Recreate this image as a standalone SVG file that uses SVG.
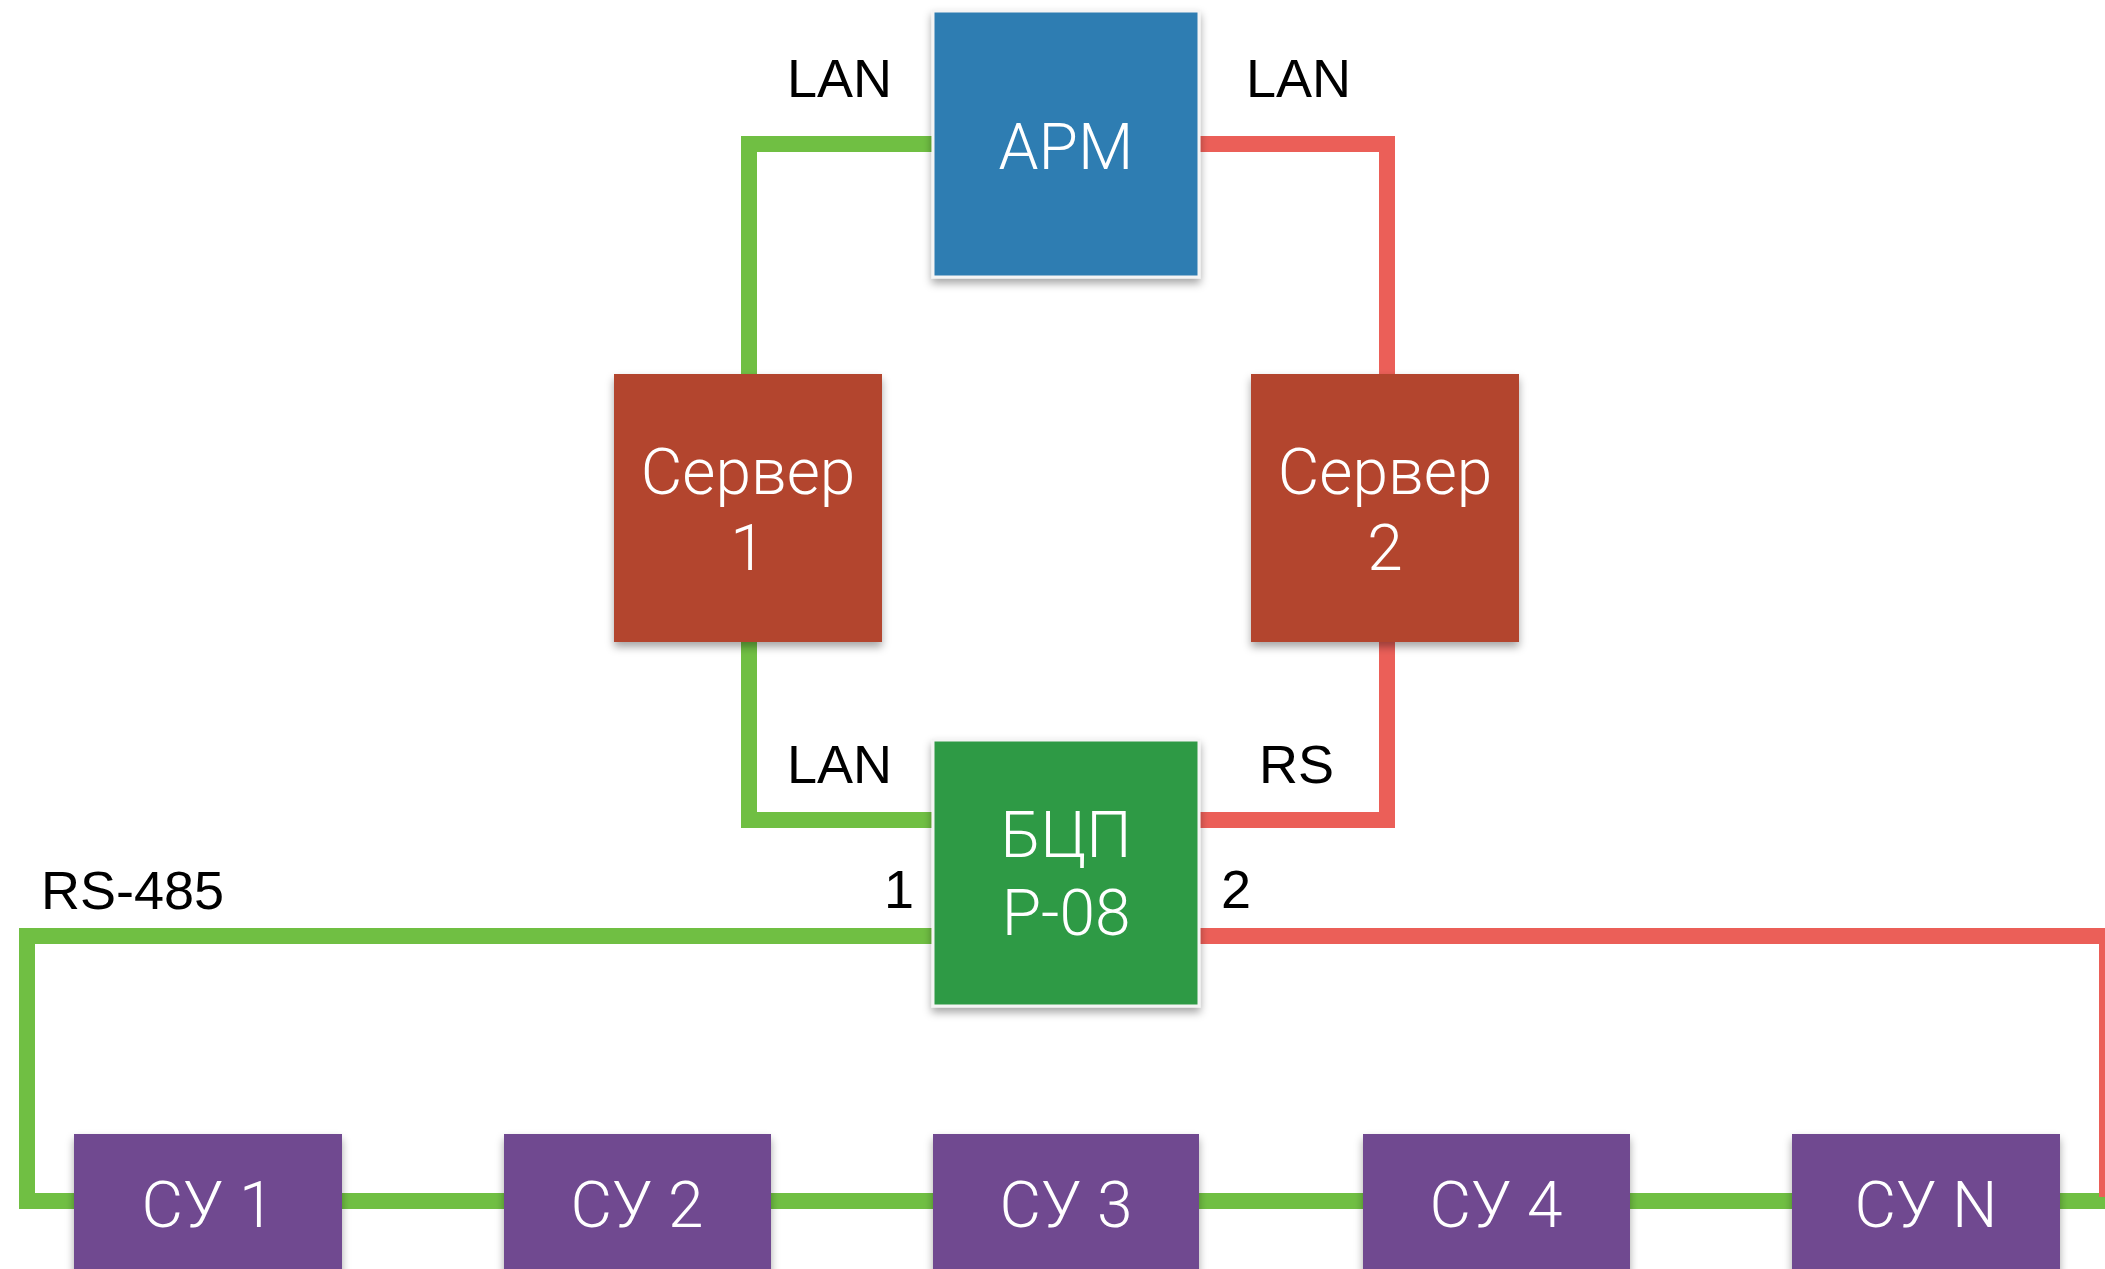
<svg xmlns="http://www.w3.org/2000/svg" width="2105" height="1269" viewBox="0 0 2105 1269">
<defs>
<style>
.g{fill:none;stroke:#70bf43;stroke-width:16;stroke-linejoin:miter}
.r{fill:none;stroke:#eb5f58;stroke-width:16;stroke-linejoin:miter}
.lbl{font-family:"Liberation Sans",Arial,sans-serif;font-size:54px;fill:#000}
.nt{font-family:Roboto,"Liberation Sans",sans-serif;font-weight:300;font-size:64px;fill:#fff;text-anchor:middle}
.box{filter:url(#sh)}
.arm{fill:#2e7db2;stroke:#f4f4f4;stroke-width:3}
.srv{fill:#b3452f}
.bcp{fill:#2e9a45;stroke:#f4f4f4;stroke-width:3}
.su{fill:#6f4a90}
</style>
<filter id="sh" x="-10%" y="-10%" width="125%" height="125%">
<feDropShadow dx="0" dy="5" stdDeviation="4" flood-color="#000" flood-opacity="0.35"/>
</filter>
</defs>
<rect width="2105" height="1269" fill="#fff"/>
<g id="connectors">
<path class="g" d="M933,144 H749 V374"/>
<path class="g" d="M749,642 V820 H933"/>
<path class="r" d="M1199,144 H1387 V374"/>
<path class="r" d="M1387,642 V820 H1199"/>
<path class="g" d="M933,936 H27 V1201 H74"/>
<path class="g" d="M342,1201 H504"/>
<path class="g" d="M771,1201 H933"/>
<path class="g" d="M1199,1201 H1363"/>
<path class="g" d="M1630,1201 H1792"/>
<path class="g" d="M2060,1201 H2105"/>
<path class="r" d="M1199,936 H2107 V1197"/>
</g>
<g id="labels">
<text class="lbl" x="787" y="97">LAN</text>
<text class="lbl" x="1246" y="97">LAN</text>
<text class="lbl" x="787" y="783">LAN</text>
<text class="lbl" x="1259" y="783">RS</text>
<text class="lbl" x="884" y="908">1</text>
<text class="lbl" x="1221" y="908">2</text>
<text class="lbl" x="41" y="909">RS-485</text>
</g>
<g id="arm">
<rect class="box arm" x="933" y="11" width="266" height="266"/>
<text class="nt" x="1066" y="169">АРМ</text>
</g>
<g id="server1">
<rect class="box srv" x="614" y="374" width="268" height="268"/>
<text class="nt" x="748" y="494">Сервер</text>
<text class="nt" x="748" y="570">1</text>
</g>
<g id="server2">
<rect class="box srv" x="1251" y="374" width="268" height="268"/>
<text class="nt" x="1385" y="494">Сервер</text>
<text class="nt" x="1385" y="570">2</text>
</g>
<g id="bcp">
<rect class="box bcp" x="933" y="740" width="266" height="266"/>
<text class="nt" x="1066" y="857">БЦП</text>
<text class="nt" x="1066" y="935">Р-08</text>
</g>
<g id="su1">
<rect class="box su" x="74" y="1134" width="268" height="268"/>
<text class="nt" x="208" y="1227">СУ 1</text>
</g>
<g id="su2">
<rect class="box su" x="504" y="1134" width="267" height="268"/>
<text class="nt" x="637" y="1227">СУ 2</text>
</g>
<g id="su3">
<rect class="box su" x="933" y="1134" width="266" height="268"/>
<text class="nt" x="1066" y="1227">СУ 3</text>
</g>
<g id="su4">
<rect class="box su" x="1363" y="1134" width="267" height="268"/>
<text class="nt" x="1496" y="1227">СУ 4</text>
</g>
<g id="sun">
<rect class="box su" x="1792" y="1134" width="268" height="268"/>
<text class="nt" x="1926" y="1227">СУ N</text>
</g>
</svg>
